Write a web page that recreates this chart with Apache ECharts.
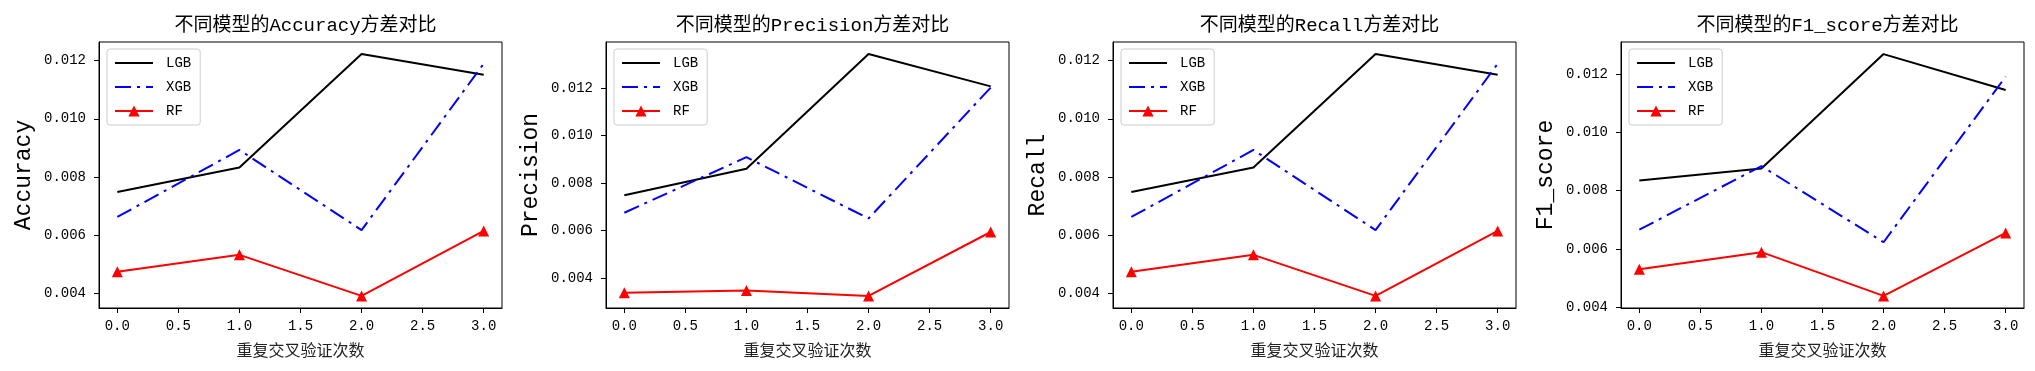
<!DOCTYPE html>
<html>
<head>
<meta charset="utf-8">
<script src="https://cdn.jsdelivr.net/npm/echarts@6/dist/echarts.min.js"></script>
<style>
html,body{margin:0;padding:0;background:#fff;}
#main{width:2035px;height:371px;}
</style>
</head>
<body>
<div id="main"></div>
<script>
// ---- data ----
const xValues = [0, 1, 2, 3];
const xTicks = [0, 0.5, 1, 1.5, 2, 2.5, 3];
const yTicks = [0.004, 0.006, 0.008, 0.010, 0.012];
const seriesNames = ['LGB', 'XGB', 'RF'];
const metricNames = ['Accuracy', 'Precision', 'Recall', 'F1_score'];
const xAxisTitle = '重复交叉验证次数';

const accLGB = [0.00749, 0.00833, 0.01222, 0.01151];
const accXGB = [0.00663, 0.00893, 0.00618, 0.01189];
const accRF  = [0.00475, 0.00533, 0.00392, 0.00615];

const precLGB = [0.00748, 0.00859, 0.01342, 0.01206];
const precXGB = [0.00674, 0.00908, 0.00650, 0.01201];
const precRF  = [0.00337, 0.00347, 0.00324, 0.00593];

const recLGB = [0.00749, 0.00833, 0.01222, 0.01151];
const recXGB = [0.00663, 0.00893, 0.00618, 0.01189];
const recRF  = [0.00475, 0.00533, 0.00392, 0.00615];

const f1LGB = [0.00835, 0.00876, 0.01268, 0.01145];
const f1XGB = [0.00666, 0.00884, 0.00623, 0.01191];
const f1RF  = [0.00530, 0.00589, 0.00439, 0.00655];

const panelData = [
  [accLGB, accXGB, accRF],
  [precLGB, precXGB, precRF],
  [recLGB, recXGB, recRF],
  [f1LGB, f1XGB, f1RF]
];

// ---- layout / style ----
const gridLefts = [99, 606, 1113, 1621];
const gridWidth = 403;
const gridTop = 42;
const gridHeight = 266;
const MONO = "'Liberation Mono', 'Noto Sans CJK SC', monospace";
const CJK = "'Liberation Mono', 'Noto Sans CJK SC', sans-serif";

const lineStyles = [
  {color: '#000000', width: 2, type: 'solid'},
  {color: '#0000ff', width: 2, type: [16, 6, 3, 6]},
  {color: '#ff0000', width: 2, type: 'solid'}
];
const hasMarker = [false, false, true];

const grids = [], xAxes = [], yAxes = [], series = [], titles = [], legends = [];

panelData.forEach((sets, p) => {
  const all = [].concat(...sets);
  const lo = Math.min(...all), hi = Math.max(...all);
  const pad = (hi - lo) * 0.05;
  grids.push({
    left: gridLefts[p], top: gridTop, width: gridWidth, height: gridHeight,
    show: true, borderColor: '#000', borderWidth: 1, backgroundColor: 'transparent'
  });
  xAxes.push({
    type: 'value', gridIndex: p, min: -0.15, max: 3.15,
    name: xAxisTitle, nameLocation: 'middle', nameGap: 34,
    nameTextStyle: {fontFamily: "'Noto Sans CJK SC', sans-serif", fontSize: 16, color: '#222'},
    axisLine: {show: true, onZero: false, lineStyle: {color: '#000', width: 1}},
    axisTick: {show: true, length: 5, lineStyle: {color: '#000'}, customValues: xTicks},
    axisLabel: {show: true, margin: 11, color: '#000', fontFamily: MONO, fontSize: 14,
      customValues: xTicks, formatter: v => v.toFixed(1)},
    splitLine: {show: false}
  });
  yAxes.push({
    type: 'value', gridIndex: p, min: lo - pad, max: hi + pad,
    name: metricNames[p], nameLocation: 'middle', nameGap: 64, nameRotate: 90,
    nameTextStyle: {fontFamily: MONO, fontSize: 23, color: '#000'},
    axisLine: {show: true, onZero: false, lineStyle: {color: '#000', width: 1}},
    axisTick: {show: true, length: 5, lineStyle: {color: '#000'}, customValues: yTicks},
    axisLabel: {show: true, margin: 13, color: '#000', fontFamily: MONO, fontSize: 14,
      customValues: yTicks, formatter: v => v.toFixed(3)},
    splitLine: {show: false}
  });
  titles.push({
    text: '不同模型的' + metricNames[p] + '方差对比',
    left: gridLefts[p] + gridWidth / 2, top: 11, textAlign: 'center',
    textStyle: {fontFamily: CJK, fontSize: 19, fontWeight: 'normal', color: '#000'}
  });
  legends.push({
    data: seriesNames.map((n, s) => hasMarker[s] ? {name: n}
      : {name: n, itemStyle: {color: 'rgba(0,0,0,0)', opacity: 0, borderWidth: 0}}),
    orient: 'vertical',
    left: gridLefts[p] + 8, top: 49,
    padding: [7, 9, 7, 7], itemGap: 10, itemWidth: 38, itemHeight: 14,
    backgroundColor: '#fff', borderColor: '#cccccc', borderWidth: 1, borderRadius: 3,
    textStyle: {fontFamily: MONO, fontSize: 14, color: '#000', padding: [0, 0, 0, 8]}
  });
  sets.forEach((vals, s) => {
    series.push({
      name: seriesNames[s], type: 'line', xAxisIndex: p, yAxisIndex: p,
      data: xValues.map((x, i) => [x, vals[i]]),
      lineStyle: lineStyles[s],
      itemStyle: {color: lineStyles[s].color},
      symbol: hasMarker[s] ? 'triangle' : 'none',
      symbolSize: 11,
      showSymbol: hasMarker[s],
      animation: false,
      z: hasMarker[s] ? 3 : 2
    });
  });
});

const chart = echarts.init(document.getElementById('main'), null, {renderer: 'canvas'});
chart.setOption({
  animation: false,
  backgroundColor: '#fff',
  title: titles,
  legend: legends,
  grid: grids,
  xAxis: xAxes,
  yAxis: yAxes,
  series: series
});
</script>
</body>
</html>
